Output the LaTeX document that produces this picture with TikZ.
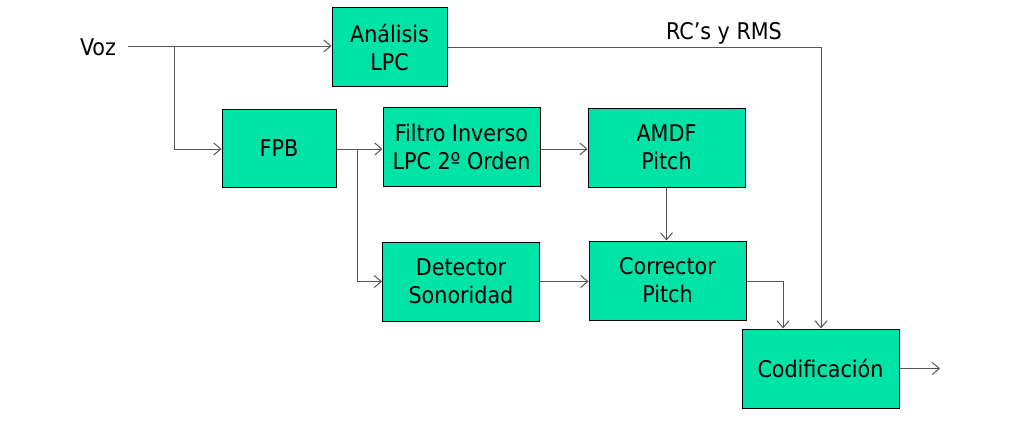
\documentclass[tikz,border=0pt]{standalone}
\usepackage{fontspec}
\setmainfont{DejaVu Sans Condensed}
\usetikzlibrary{arrows.meta}
\definecolor{boxgreen}{HTML}{00E3A6}
\definecolor{linegray}{HTML}{555555}
\begin{document}
\begin{tikzpicture}[x=1pt,y=-1pt,
  txt/.style={font=\fontsize{23}{28}\selectfont},
  blk/.style={draw=black,fill=boxgreen,line width=1pt,minimum width=#1,minimum height=79pt,inner sep=0pt,align=center,txt},
  blk/.default=157pt,
  conn/.style={draw=linegray,line width=1pt,-{Straight Barb[length=7pt,width=12pt,line width=1pt]}},
  plain/.style={draw=linegray,line width=1pt}]
\useasboundingbox (0,0) rectangle (1012,423);
\node[blk=115pt] (lpc) at (389.5,47) {Análisis\\LPC};
\node[blk=114pt,minimum height=78pt] (fpb) at (279,148) {FPB};
\node[blk] (fil) at (461.5,146.5) {Filtro Inverso\\LPC 2º Orden};
\node[blk] (amdf) at (666.5,147.5) {AMDF\\Pitch};
\node[blk] (det) at (461,281.5) {Detector\\Sonoridad};
\node[blk] (cor) at (667.5,280.5) {Corrector\\Pitch};
\node[blk] (cod) at (820.5,368.5) {Codificación};
\node[txt] (voz) at (98,47) {Voz};
\node[txt] (rc) at (724,33) {RC’s y RMS};
\coordinate (vin) at (128,46);
\coordinate (b1) at (174,46);
\coordinate (b2) at (357,149);
\coordinate (out) at (940,368.5);
\draw[conn] (vin) -- (lpc.west |- vin);
\draw[conn] (b1) |- (fpb.west |- 0,149);
\draw[plain] (fpb.east |- b2) -- (b2);
\draw[conn] (b2) -- (fil.west |- b2);
\draw[conn] (b2) |- (det.west);
\draw[conn] (fil.east |- b2) -- (amdf.west |- b2);
\draw[conn] (amdf.south) -- (cor.north -| amdf.south);
\draw[conn] (det.east) -- (cor.west |- det.east);
\draw[conn] (cor.east |- 0,281) -| (cod.north -| 783,0);
\draw[conn] (lpc.east |- 0,47) -| (cod.north -| 821,0);
\draw[conn] (cod.east) -- (out);
\end{tikzpicture}
\end{document}
